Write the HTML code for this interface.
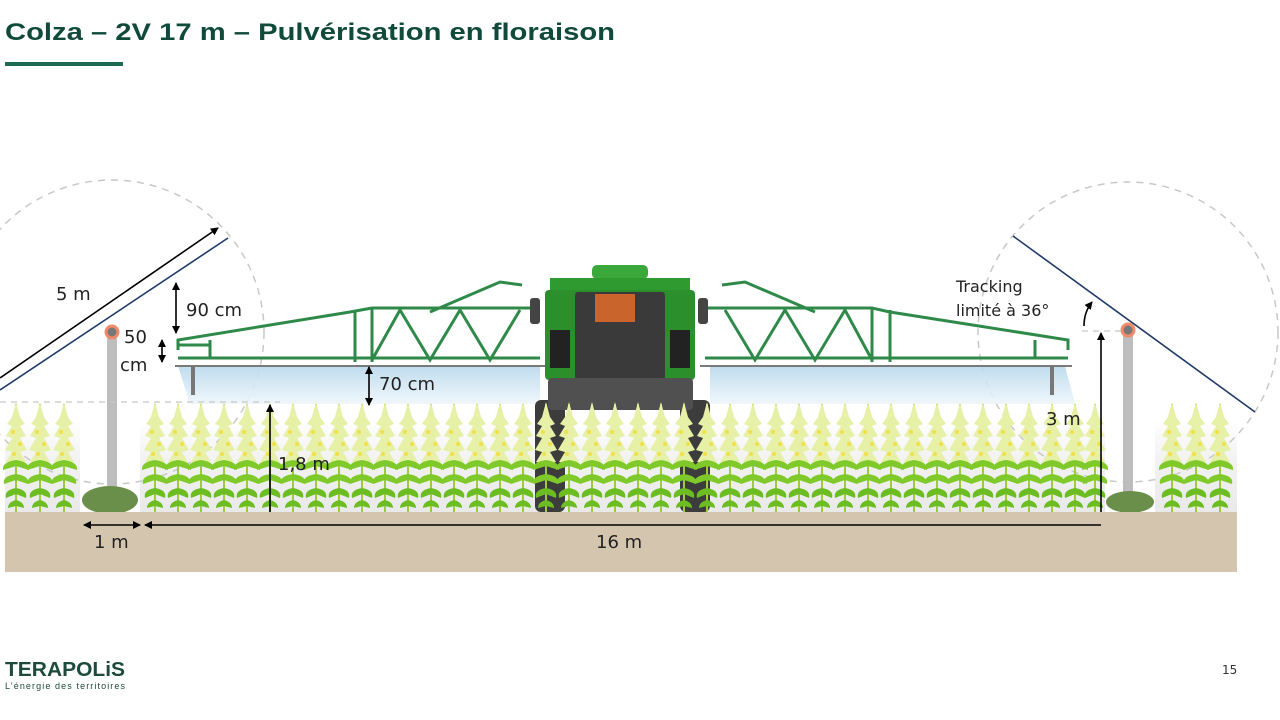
<!DOCTYPE html>
<html><head><meta charset="utf-8"><style>
html,body{margin:0;padding:0;background:#fff;width:1280px;height:720px;overflow:hidden}
svg{display:block}
text{font-family:"DejaVu Sans","Liberation Sans",sans-serif}
</style></head><body>
<svg width="1280" height="720" viewBox="0 0 1280 720" xmlns="http://www.w3.org/2000/svg">
<defs>
<linearGradient id="spray" x1="0" y1="0" x2="0" y2="1"><stop offset="0" stop-color="#b9d8ec"/><stop offset="1" stop-color="#eef6fb"/></linearGradient>
<linearGradient id="band" x1="0" y1="0" x2="0" y2="1"><stop offset="0" stop-color="#fff"/><stop offset="0.4" stop-color="#f3f3f3"/><stop offset="1" stop-color="#e9e9e9"/></linearGradient>
<marker id="ah" markerWidth="8" markerHeight="8" refX="7" refY="4" orient="auto-start-reverse" markerUnits="userSpaceOnUse"><path d="M0,0 L8,4 L0,8 Z" fill="#000"/></marker>
<g id="plant">
 <line x1="0" y1="0" x2="0" y2="-108" stroke="#9ccc3c" stroke-width="2"/>
 <path d="M0,-110 L-4,-95 L-9,-88 L-4,-86 L-10,-76 L-4,-74 L-11,-62 L-4,-60 L-10,-50 L0,-48 L10,-50 L4,-60 L11,-62 L4,-74 L10,-76 L4,-86 L9,-88 L4,-95 Z" fill="#e6f0a6"/>
 <circle cx="-3" cy="-80" r="2" fill="#f1e04a"/><circle cx="4" cy="-68" r="2" fill="#f1e04a"/><circle cx="-2" cy="-58" r="2" fill="#f1e04a"/>
 <path d="M0,-52 Q-14,-50 -13,-42 Q-6,-44 0,-46 Q6,-44 13,-42 Q14,-50 0,-52Z" fill="#7fca2a"/>
 <path d="M0,-38 Q-14,-36 -12,-28 Q-6,-30 0,-32 Q6,-30 12,-28 Q14,-36 0,-38Z" fill="#7fca2a"/>
 <path d="M0,-24 Q-12,-22 -10,-14 Q-5,-16 0,-18 Q5,-16 10,-14 Q12,-22 0,-24Z" fill="#6bbd22"/>
 <path d="M0,-12 Q-8,-10 -8,-4 Q0,-6 0,-6 Q0,-6 8,-4 Q8,-10 0,-12Z" fill="#6bbd22"/>
</g>
</defs>

<text x="5" y="40" font-size="24" font-weight="bold" fill="#0f4a3a" textLength="610" lengthAdjust="spacingAndGlyphs" style="font-family:'Liberation Sans',sans-serif">Colza – 2V 17 m – Pulvérisation en floraison</text>
<rect x="5" y="62" width="118" height="4" fill="#1d6b55"/>

<rect x="5" y="420" width="75" height="92" fill="url(#band)"/>
<rect x="140" y="420" width="965" height="92" fill="url(#band)"/>
<rect x="1155" y="420" width="82" height="92" fill="url(#band)"/>

<circle cx="112" cy="332" r="152" fill="none" stroke="#c8c8c8" stroke-width="1.5" stroke-dasharray="7,6"/>
<circle cx="1128" cy="332" r="150" fill="none" stroke="#c8c8c8" stroke-width="1.5" stroke-dasharray="7,6"/>

<polygon points="178,366 540,366 540,404 190,404" fill="url(#spray)" opacity="0.9"/>
<polygon points="710,366 1065,366 1075,404 710,404" fill="url(#spray)" opacity="0.9"/>

<g stroke="#2f8a4a" stroke-width="3" fill="none">
 <polyline points="178,350 178,340 350,312 372,308 540,308"/>
 <polyline points="178,358 540,358"/>
 <line x1="372" y1="308" x2="372" y2="362"/><line x1="355" y1="310" x2="355" y2="362"/>
 <polyline points="372,360 400,310 430,360 460,310 490,360 520,310"/>
 <polyline points="430,312 500,282 522,285"/>
 <line x1="178" y1="345" x2="210" y2="345"/><line x1="210" y1="340" x2="210" y2="358"/>
</g>
<line x1="175" y1="366" x2="545" y2="366" stroke="#7a7a7a" stroke-width="2"/>
<line x1="193" y1="366" x2="193" y2="395" stroke="#777" stroke-width="4"/>
<g stroke="#2f8a4a" stroke-width="3" fill="none">
 <polyline points="1068,350 1068,340 890,312 872,308 705,308"/>
 <polyline points="1068,358 705,358"/>
 <line x1="872" y1="308" x2="872" y2="362"/><line x1="890" y1="310" x2="890" y2="362"/>
 <polyline points="872,360 845,310 815,360 785,310 755,360 725,310"/>
 <polyline points="815,312 745,282 722,285"/>
 <line x1="1035" y1="340" x2="1035" y2="358"/>
</g>
<line x1="700" y1="366" x2="1072" y2="366" stroke="#7a7a7a" stroke-width="2"/>
<line x1="1052" y1="366" x2="1052" y2="395" stroke="#777" stroke-width="4"/>

<rect x="535" y="400" width="30" height="112" rx="6" fill="#3c3c3c"/>
<rect x="680" y="400" width="30" height="112" rx="6" fill="#3c3c3c"/>
<rect x="592" y="265" width="56" height="14" rx="5" fill="#3aa83a"/>
<rect x="550" y="278" width="140" height="20" fill="#2f9a2f"/>
<rect x="545" y="290" width="150" height="90" rx="4" fill="#2b8f2b"/>
<rect x="530" y="298" width="10" height="26" rx="3" fill="#444"/>
<rect x="698" y="298" width="10" height="26" rx="3" fill="#444"/>
<rect x="575" y="292" width="90" height="88" rx="3" fill="#3a3a3a"/>
<rect x="595" y="294" width="40" height="28" fill="#c8642c"/>
<rect x="550" y="330" width="20" height="38" fill="#222"/><rect x="670" y="330" width="20" height="38" fill="#222"/>
<rect x="548" y="378" width="145" height="32" rx="4" fill="#505050"/>

<g>
<use href="#plant" x="16" y="512"/><use href="#plant" x="40" y="512"/><use href="#plant" x="64" y="512"/>
<use href="#plant" x="155" y="512"/><use href="#plant" x="178" y="512"/><use href="#plant" x="201" y="512"/><use href="#plant" x="224" y="512"/><use href="#plant" x="247" y="512"/><use href="#plant" x="270" y="512"/><use href="#plant" x="293" y="512"/><use href="#plant" x="316" y="512"/><use href="#plant" x="339" y="512"/><use href="#plant" x="362" y="512"/><use href="#plant" x="385" y="512"/><use href="#plant" x="408" y="512"/><use href="#plant" x="431" y="512"/><use href="#plant" x="454" y="512"/><use href="#plant" x="477" y="512"/><use href="#plant" x="500" y="512"/><use href="#plant" x="523" y="512"/><use href="#plant" x="546" y="512"/><use href="#plant" x="569" y="512"/><use href="#plant" x="592" y="512"/><use href="#plant" x="615" y="512"/><use href="#plant" x="638" y="512"/><use href="#plant" x="661" y="512"/><use href="#plant" x="684" y="512"/><use href="#plant" x="707" y="512"/><use href="#plant" x="730" y="512"/><use href="#plant" x="753" y="512"/><use href="#plant" x="776" y="512"/><use href="#plant" x="799" y="512"/><use href="#plant" x="822" y="512"/><use href="#plant" x="845" y="512"/><use href="#plant" x="868" y="512"/><use href="#plant" x="891" y="512"/><use href="#plant" x="914" y="512"/><use href="#plant" x="937" y="512"/><use href="#plant" x="960" y="512"/><use href="#plant" x="983" y="512"/><use href="#plant" x="1006" y="512"/><use href="#plant" x="1029" y="512"/><use href="#plant" x="1052" y="512"/><use href="#plant" x="1075" y="512"/><use href="#plant" x="1095" y="512"/>
<use href="#plant" x="1172" y="512"/><use href="#plant" x="1196" y="512"/><use href="#plant" x="1220" y="512"/>
</g>

<rect x="107" y="332" width="10" height="180" fill="#bdbdbd"/>
<circle cx="112" cy="332" r="6" fill="#777" stroke="#f08a6a" stroke-width="3"/>
<rect x="1123" y="330" width="10" height="182" fill="#bdbdbd"/>
<circle cx="1128" cy="330" r="6" fill="#777" stroke="#f08a6a" stroke-width="3"/>
<ellipse cx="110" cy="500" rx="28" ry="14" fill="#6a8f4a"/>
<ellipse cx="1130" cy="502" rx="24" ry="11" fill="#6a8f4a"/>

<line x1="0" y1="390" x2="228" y2="238" stroke="#1f3a68" stroke-width="1.6"/>
<line x1="1013" y1="236" x2="1255" y2="412" stroke="#1f3a68" stroke-width="1.6"/>
<line x1="0" y1="378" x2="218" y2="228" stroke="#000" stroke-width="1.6" marker-end="url(#ah)"/>

<line x1="0" y1="402" x2="280" y2="402" stroke="#c8c8c8" stroke-width="1.3" stroke-dasharray="6,5"/>
<line x1="1082" y1="331" x2="1122" y2="331" stroke="#c8c8c8" stroke-width="1.3" stroke-dasharray="6,5"/>

<rect x="5" y="512" width="1232" height="60" fill="#d4c6ae"/>

<g stroke="#000" stroke-width="1.6" fill="none">
<line x1="176" y1="283" x2="176" y2="333" marker-start="url(#ah)" marker-end="url(#ah)"/>
<line x1="162" y1="340" x2="162" y2="362" marker-start="url(#ah)" marker-end="url(#ah)"/>
<line x1="369" y1="367" x2="369" y2="405" marker-start="url(#ah)" marker-end="url(#ah)"/>
<line x1="270" y1="512" x2="270" y2="405" marker-end="url(#ah)"/>
<line x1="1101" y1="512" x2="1101" y2="333" marker-end="url(#ah)"/>
<line x1="84" y1="525" x2="140" y2="525" marker-start="url(#ah)" marker-end="url(#ah)"/>
<line x1="145" y1="525" x2="1101" y2="525" marker-start="url(#ah)"/>
<path d="M1084,326 Q1084,312 1092,302" marker-end="url(#ah)"/>
</g>

<g font-size="18" fill="#222">
<text x="56" y="300">5 m</text>
<text x="186" y="316">90 cm</text>
<text x="124" y="343">50</text>
<text x="120" y="371">cm</text>
<text x="379" y="390">70 cm</text>
<text x="278" y="470">1,8 m</text>
<text x="1046" y="425">3 m</text>
<text x="94" y="548">1 m</text>
<text x="596" y="548">16 m</text>
<text x="956" y="292" font-size="16">Tracking</text>
<text x="956" y="316" font-size="16">limité à 36°</text>
</g>

<text x="5" y="676" font-size="20" font-weight="bold" fill="#1d4a3c" textLength="120" lengthAdjust="spacingAndGlyphs" style="font-family:'Liberation Sans',sans-serif">TERAPOLiS</text>
<text x="5" y="689" font-size="9" fill="#1d4a3c" textLength="120" style="font-family:'Liberation Sans',sans-serif">L’énergie des territoires</text>
<text x="1222" y="674" font-size="12" fill="#333">15</text>
</svg>
</body></html>
